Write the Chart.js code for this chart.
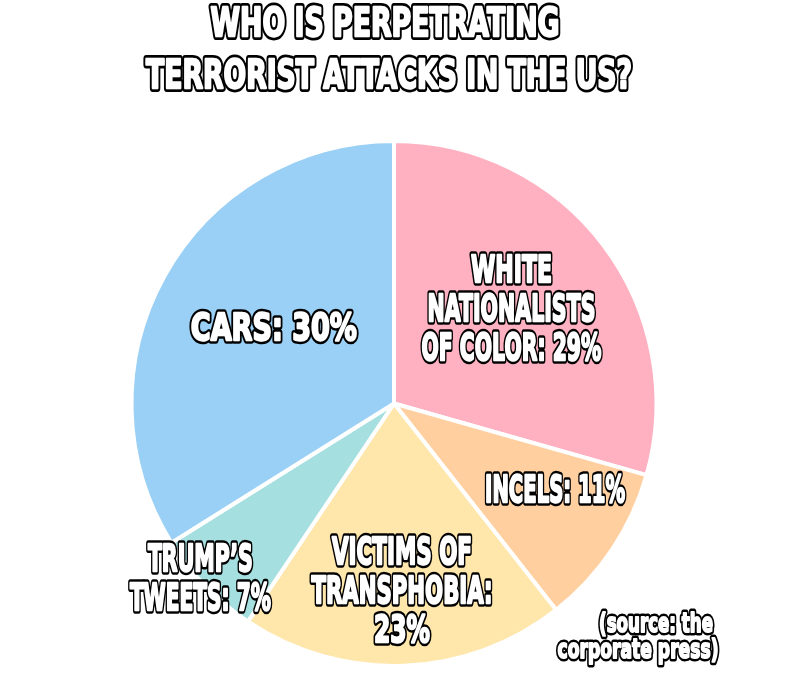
<!DOCTYPE html>
<html>
<head>
<meta charset="utf-8">
<script src="https://cdn.jsdelivr.net/npm/chart.js@4.4.0/dist/chart.umd.min.js"></script>
<style>
    html, body { margin: 0; padding: 0; background: #fff; }
    #wrap { width: 788px; height: 695px; position: relative; }
</style>
</head>
<body>
<div id="wrap"><canvas id="pie"></canvas></div>
<script>
// ─── Data (slice sizes; labels keep the printed numbers) ───
const categories = ['WHITE NATIONALISTS OF COLOR', 'INCELS', 'VICTIMS OF TRANSPHOBIA', "TRUMP’S TWEETS", 'CARS'];
const sliceValues = [29.4, 10, 20, 6.7, 33.9];
const labelLines = [
    ['WHITE', 'NATIONALISTS', 'OF COLOR: 29%'],
    ['INCELS: 11%'],
    ['VICTIMS OF', 'TRANSPHOBIA:', '23%'],
    ['TRUMP’S', 'TWEETS: 7%'],
    ['CARS: 30%'],
];
const titleLines = ['WHO IS PERPETRATING', 'TERRORIST ATTACKS IN THE US?'];
const sourceLines = ['(source: the', 'corporate press)'];

const colors = ['#FFB1C1', '#FFCF9F', '#FFE6AA', '#A5DFDF', '#9AD0F5'];

// ─── Text styling: radial spot per slice, nudge, and squeezed line widths ───
const labelPlace = [
    { r: 0.58, dx: -4, dy: -5, w: [81, 168, 180] },
    { r: 0.693, dx: 10, dy: -17, w: [140] },
    { r: 0.708, dx: 1, dy: 0, w: [140, 181, 56] },
    { r: 0.99, dx: -7, dy: -8, w: [105, 141] },
    { r: 0.545, dx: 5, dy: -8, w: [166] },
];
const titleStyle = { x: [385, 389], base: [36, 88], w: [349, 486], size: 39 };
const sourceStyle = { x: [656, 638], base: [632, 658], w: [114, 161], size: 26 };

const FONT = '"DejaVu Sans", sans-serif';
const LABEL_SIZE = 38;
const LINE_H = 39;

function outlined(ctx, text, x, y, size, maxW, lw, inner) {
    ctx.save();
    ctx.font = `bold ${size}px ${FONT}`;
    ctx.textAlign = 'center';
    ctx.textBaseline = 'alphabetic';
    ctx.lineJoin = 'round';
    ctx.lineWidth = lw;
    ctx.strokeStyle = '#000';
    ctx.strokeText(text, x, y, maxW);
    // white stroke to fatten the letters toward the chunky meme look
    ctx.lineWidth = inner;
    ctx.strokeStyle = '#fff';
    ctx.strokeText(text, x, y, maxW);
    ctx.fillStyle = '#fff';
    ctx.fillText(text, x, y, maxW);
    ctx.restore();
}

const textPlugin = {
    id: 'memeText',
    afterDatasetsDraw(chart) {
        const ctx = chart.ctx;
        const arcs = chart.getDatasetMeta(0).data;
        const capH = LABEL_SIZE * 0.729;

        arcs.forEach((arc, i) => {
            const p = labelPlace[i];
            const mid = (arc.startAngle + arc.endAngle) / 2;
            const rr = arc.outerRadius * p.r;
            const cx = arc.x + Math.cos(mid) * rr + p.dx;
            const cy = arc.y + Math.sin(mid) * rr + p.dy;
            const lines = labelLines[i];
            lines.forEach((t, j) => {
                const y = cy + (j - (lines.length - 1) / 2) * LINE_H + capH / 2;
                outlined(ctx, t, cx, y, LABEL_SIZE, p.w[j], 7.5, 2.4);
            });
        });

        titleLines.forEach((t, j) => {
            outlined(ctx, t, titleStyle.x[j], titleStyle.base[j], titleStyle.size, titleStyle.w[j], 8, 2.4);
        });

        sourceLines.forEach((t, j) => {
            outlined(ctx, t, sourceStyle.x[j], sourceStyle.base[j], sourceStyle.size, sourceStyle.w[j], 7, 2);
        });
    },
};

new Chart(document.getElementById('pie'), {
    type: 'pie',
    data: {
        labels: categories,
        datasets: [{
            data: sliceValues,
            backgroundColor: colors,
            borderColor: '#ffffff',
            borderWidth: 4,
        }],
    },
    options: {
        responsive: true,
        maintainAspectRatio: false,
        animation: false,
        events: [],
        layout: { padding: { top: 139, bottom: 27, left: 0, right: 0 } },
        plugins: {
            legend: { display: false },
            tooltip: { enabled: false },
            title: { display: false },
        },
    },
    plugins: [textPlugin],
});
</script>
</body>
</html>
